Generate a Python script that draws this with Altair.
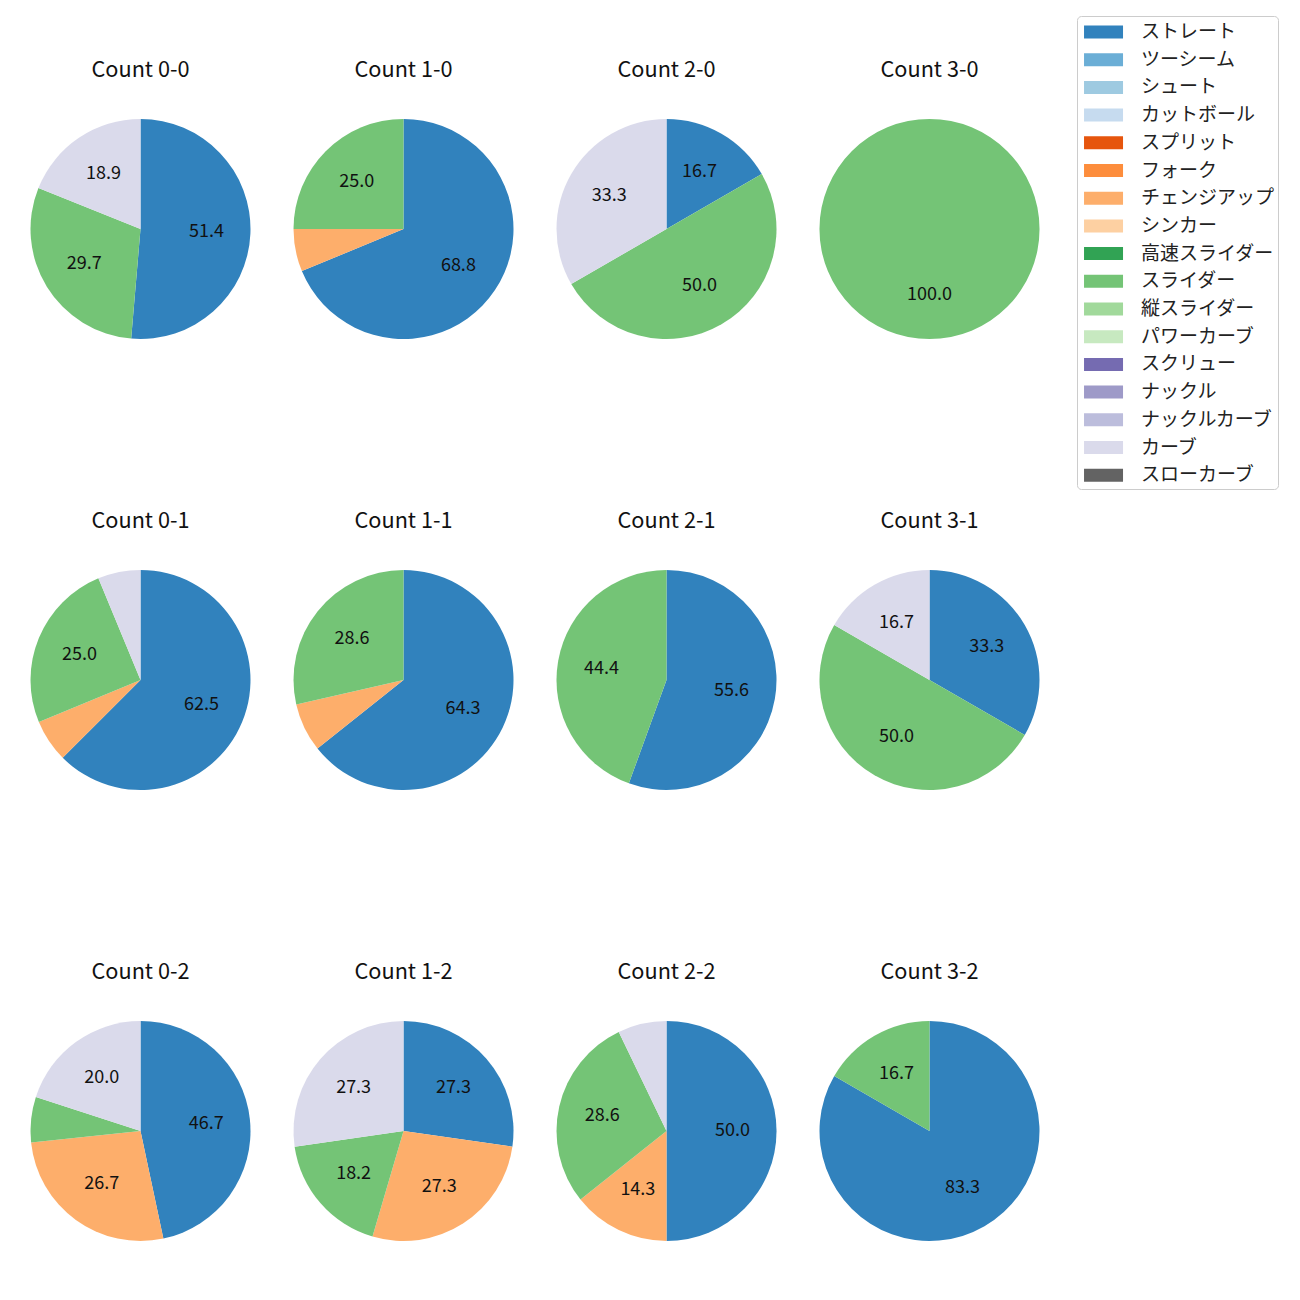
import altair as alt
import pandas as pd

FONT = "Noto Sans CJK JP"

pitch_types = ["ストレート", "ツーシーム", "シュート", "カットボール", "スプリット", "フォーク",
               "チェンジアップ", "シンカー", "高速スライダー", "スライダー", "縦スライダー",
               "パワーカーブ", "スクリュー", "ナックル", "ナックルカーブ", "カーブ", "スローカーブ"]
colors = ["#3182bd", "#6baed6", "#9ecae1", "#c6dbef", "#e6550d", "#fd8d3c", "#fdae6b", "#fdd0a2",
          "#31a354", "#74c476", "#a1d99b", "#c7e9c0", "#756bb1", "#9e9ac8", "#bcbddc", "#dadaeb",
          "#636363"]

counts = ["0-0", "1-0", "2-0", "3-0",
          "0-1", "1-1", "2-1", "3-1",
          "0-2", "1-2", "2-2", "3-2"]
straight = [19, 11, 1, 0, 10, 9, 5, 2, 7, 3, 7, 5]
changeup = [0, 1, 0, 0, 1, 1, 0, 0, 4, 3, 2, 0]
slider = [11, 4, 3, 1, 4, 4, 4, 3, 1, 2, 4, 1]
curve = [7, 0, 2, 0, 1, 0, 0, 1, 3, 3, 1, 0]

series = {"ストレート": straight, "チェンジアップ": changeup, "スライダー": slider, "カーブ": curve}

rows = []
for i, c in enumerate(counts):
    total = sum(series[p][i] for p in series)
    for p, vals in series.items():
        n = vals[i]
        if n <= 0:
            continue
        pct = n / total * 100
        rows.append({"cnt": c, "pitch": p, "n": n, "idx": pitch_types.index(p),
                     "label": f"{pct:.1f}" if pct >= 10 else ""})
df = pd.DataFrame(rows)

color_enc = alt.Color(
    "pitch:N",
    scale=alt.Scale(domain=pitch_types, range=colors),
    legend=alt.Legend(
        title=None, orient="none", legendX=1046.5, legendY=0,
        symbolType="M-0.69,-0.5L2.31,-0.5L2.31,0.5L-0.69,0.5Z", symbolSize=676,
        symbolStrokeWidth=0, labelFont=FONT, labelFontSize=19, labelColor="#222",
        labelOffset=35, rowPadding=4.7, padding=3, strokeColor="#cccccc",
        cornerRadius=4, fillColor="white", labelLimit=300,
    ),
)


def panel(c):
    base = alt.Chart(df).transform_filter(alt.datum.cnt == c)
    arc = base.mark_arc(outerRadius=110).encode(
        theta=alt.Theta("n:Q", stack=True),
        color=color_enc,
        order=alt.Order("idx:Q"),
    )
    text = base.mark_text(radius=66, fontSize=18, font=FONT, color="#111").encode(
        theta=alt.Theta("n:Q", stack=True),
        order=alt.Order("idx:Q"),
        text="label:N",
    )
    return alt.layer(arc, text).properties(
        width=220, height=220,
        title=alt.TitleParams(f"Count {c}", fontSize=21.7, font=FONT, fontWeight="normal",
                              offset=37, color="#111"),
    )


spacer = alt.Chart(pd.DataFrame({"a": [0]})).mark_point(size=1, opacity=0, strokeWidth=0).encode(
    x=alt.value(1), y=alt.value(1)
).properties(width=2, height=43.5, view=alt.ViewBackground(stroke="white", fill="white", strokeWidth=0))

grid = alt.vconcat(
    *[alt.hconcat(*[panel(c) for c in counts[r * 4:(r + 1) * 4]], spacing=43) for r in range(3)],
    spacing=172,
)

chart = alt.vconcat(spacer, grid, spacing=0).properties(
    padding={"left": 22.5, "top": 7, "right": 5, "bottom": 5},
).configure_view(strokeWidth=0, stroke="transparent").configure(background="white")

chart.save("out.html", embed_options={"renderer": "svg", "actions": False})
